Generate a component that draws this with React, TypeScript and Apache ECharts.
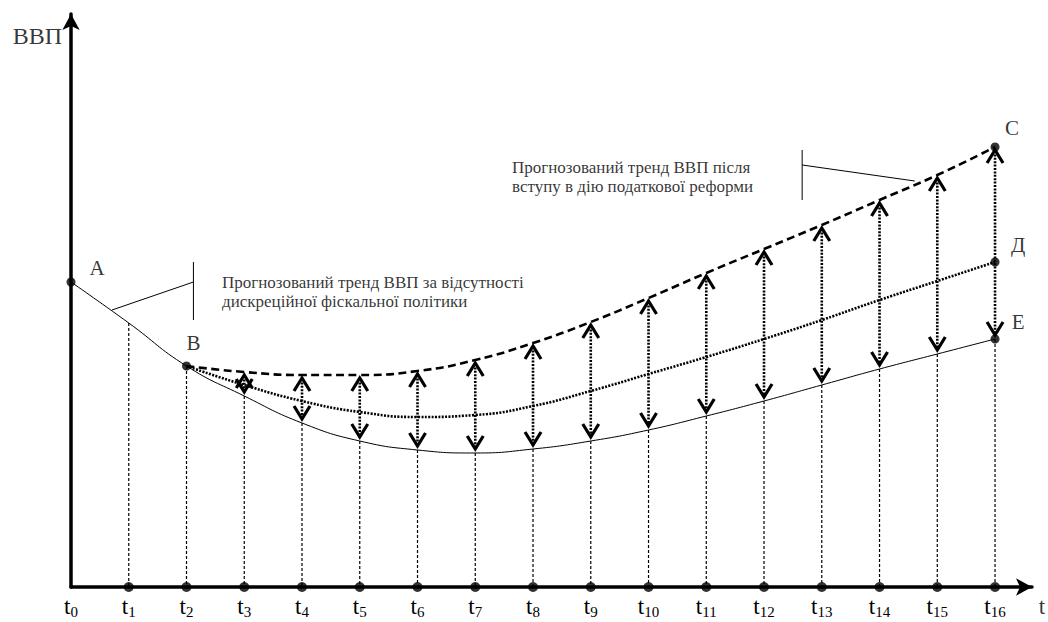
import React, { useEffect, useRef } from 'react';
import * as echarts from 'echarts';

// Time points t0..t16
const T_INDEX = [0, 1, 2, 3, 4, 5, 6, 7, 8, 9, 10, 11, 12, 13, 14, 15, 16];
// Trend of GDP without discretionary fiscal policy (A -> B -> E)
const TREND_BASE = [305, 264, 221, 191, 164, 146, 137, 134, 138, 146, 157, 171, 186, 202, 218, 233, 248];
// Trend after tax reform (B -> C), starts at t2
const TREND_REFORM = [221, 215, 212, 212, 216, 227, 244, 265, 289, 314, 338, 362, 387, 412, 440];
// Intermediate trend (B -> Д), starts at t2
const TREND_MID = [221, 202, 186, 175, 170, 172, 181, 196, 213, 230, 248, 267, 287, 306, 325];
const BRANCH_START = 2;
const ARROW_START = 3;
// Leader lines for annotations (data units)
const LEADER_1 = [[0.71, 277], [2.12, 305]];
const LEADER_1_BAR = [[2.12, 325], [2.12, 267]];
const LEADER_2 = [[12.66, 422], [14.61, 406]];
const LEADER_2_BAR = [[12.66, 437], [12.66, 387]];

const NOTE_1 = ['Прогнозований тренд ВВП за відсутності', 'дискреційної фіскальної політики'];
const NOTE_2 = ['Прогнозований тренд ВВП після', 'вступу в дію податкової реформи'];
const NOTE_1_AT = [2.615, 295];
const NOTE_2_AT = [7.636, 410];
const Y_NAME = 'ВВП';
const Y_NAME_AT = [0, 551];
const X_NAME = 't';
const X_MAX = 16.64;

const FONT = 'Liberation Serif';

export default function App() {
  const ref = useRef<HTMLDivElement>(null);
  useEffect(() => {
    document.body.style.margin = '0';
    const chart = echarts.init(ref.current!, null, { renderer: 'svg' });
    const last = T_INDEX.length - 1;
    const reformData = TREND_REFORM.map((v, i) => [BRANCH_START + i, v]);
    const midData = TREND_MID.map((v, i) => [BRANCH_START + i, v]);
    const baseData = TREND_BASE.map((v, i) => [T_INDEX[i], v]);
    const arrowData = T_INDEX.filter((t) => t >= ARROW_START).map((t) => [t, TREND_REFORM[t - BRANCH_START], TREND_BASE[t]]);
    const dropData = T_INDEX.filter((t) => t >= 1).map((t) => [t, TREND_BASE[t]]);
    const namedPoints = [
      { name: 'A', value: [0, TREND_BASE[0]], off: [26, -14] },
      { name: 'B', value: [BRANCH_START, TREND_BASE[BRANCH_START]], off: [7, -23] },
      { name: 'C', value: [last, TREND_REFORM[TREND_REFORM.length - 1]], off: [17, -19] },
      { name: 'Д', value: [last, TREND_MID[TREND_MID.length - 1]], off: [23, -17] },
      { name: 'E', value: [last, TREND_BASE[last]], off: [23, -17] },
    ];
    const lineStyleThin = { color: '#000', width: 1 };
    const textItems = [
      { value: NOTE_1_AT, label: { show: true, formatter: NOTE_1.join('\n'), position: 'right', distance: 0, fontFamily: FONT, fontSize: 17, lineHeight: 19, color: '#000', align: 'left' } },
      { value: NOTE_2_AT, label: { show: true, formatter: NOTE_2.join('\n'), position: 'right', distance: 0, fontFamily: FONT, fontSize: 17, lineHeight: 19, color: '#000', align: 'left' } },
      { value: Y_NAME_AT, label: { show: true, formatter: Y_NAME, position: 'left', distance: 9, fontFamily: FONT, fontSize: 24, color: '#000' } },
      { value: [X_MAX, 0], label: { show: true, formatter: X_NAME, position: 'inside', offset: [10, 19], fontFamily: FONT, fontSize: 23, color: '#000' } },
    ];
    const option: any = {
      animation: false,
      backgroundColor: '#fff',
      grid: { left: 71, right: 16, top: 14, bottom: 35, containLabel: false },
      xAxis: {
        type: 'value',
        min: 0,
        max: X_MAX,
        interval: 1,
        axisLine: { show: true, onZero: false, lineStyle: { color: '#000', width: 3.5 }, symbol: ['none', 'arrow'], symbolSize: [13, 16] },
        axisTick: { show: false },
        splitLine: { show: false },
        axisLabel: {
          margin: 6,
          showMaxLabel: false,
          formatter: (v: number) => (Number.isInteger(v) ? `{m|t}{s|${v}}` : ''),
          rich: {
            m: { fontFamily: FONT, fontSize: 23, color: '#000', lineHeight: 26 },
            s: { fontFamily: FONT, fontSize: 15, color: '#000', lineHeight: 26, padding: [12, 0, 0, 0] },
          },
        },
      },
      yAxis: {
        type: 'value',
        min: 0,
        max: 573,
        axisLine: { show: true, onZero: false, lineStyle: { color: '#000', width: 3.5 }, symbol: ['none', 'arrow'], symbolSize: [13, 16] },
        axisTick: { show: false },
        splitLine: { show: false },
        axisLabel: { show: false },
      },
      series: [
        {
          type: 'custom',
          name: 'drops',
          data: dropData,
          encode: { x: 0, y: 1 },
          silent: true,
          z: 1,
          renderItem: (_p: any, api: any) => {
            const x = api.value(0);
            const a = api.coord([x, api.value(1)]);
            const b = api.coord([x, 0]);
            return {
              type: 'line',
              shape: { x1: a[0], y1: a[1], x2: b[0], y2: b[1] },
              style: { stroke: '#000', lineWidth: 1.2, lineDash: [3, 2] },
            };
          },
        },
        { type: 'line', name: 'base', data: baseData, smooth: 0.5, symbol: 'none', lineStyle: lineStyleThin, z: 2 },
        { type: 'line', name: 'mid', data: midData, smooth: 0.5, symbol: 'none', lineStyle: { color: '#000', width: 2.6, type: [2, 1.4] }, z: 2 },
        { type: 'line', name: 'reform', data: reformData, smooth: 0.5, symbol: 'none', lineStyle: { color: '#000', width: 2.6, type: [8, 4.5] }, z: 2 },
        {
          type: 'custom',
          name: 'arrows',
          data: arrowData,
          encode: { x: 0, y: [1, 2] },
          silent: true,
          z: 3,
          renderItem: (_p: any, api: any) => {
            const x = api.value(0);
            const top = api.coord([x, api.value(1)]);
            const bot = api.coord([x, api.value(2)]);
            const px = top[0];
            const yT = top[1] + 3;
            const yB = bot[1] - 4;
            const w = 8;
            const h = 13;
            const head = { stroke: '#000', lineWidth: 3.2, fill: 'none' };
            return {
              type: 'group',
              children: [
                { type: 'line', shape: { x1: px, y1: yT + 1, x2: px, y2: yB - 1 }, style: { stroke: '#000', lineWidth: 2.6, lineDash: [2, 1.4] } },
                { type: 'polyline', shape: { points: [[px - w, yT + h], [px, yT], [px + w, yT + h]] }, style: head },
                { type: 'polyline', shape: { points: [[px - w, yB - h], [px, yB], [px + w, yB - h]] }, style: head },
              ],
            };
          },
        },
        { type: 'line', name: 'leader1', data: LEADER_1, symbol: 'none', lineStyle: lineStyleThin, z: 2 },
        { type: 'line', name: 'leader1bar', data: LEADER_1_BAR, symbol: 'none', lineStyle: lineStyleThin, z: 2 },
        { type: 'line', name: 'leader2', data: LEADER_2, symbol: 'none', lineStyle: lineStyleThin, z: 2 },
        { type: 'line', name: 'leader2bar', data: LEADER_2_BAR, symbol: 'none', lineStyle: lineStyleThin, z: 2 },
        {
          type: 'scatter',
          name: 'ticks',
          data: T_INDEX.filter((t) => t >= 1).map((t) => [t, 0]),
          symbolSize: 10,
          itemStyle: { color: '#000' },
          z: 5,
        },
        {
          type: 'scatter',
          name: 'points',
          symbolSize: 9,
          itemStyle: { color: '#000' },
          z: 5,
          data: namedPoints.map((p) => ({
            name: p.name,
            value: p.value,
            label: { show: true, formatter: p.name, position: 'inside', offset: p.off, fontFamily: FONT, fontSize: 21, color: '#000' },
          })),
        },
        {
          type: 'scatter',
          name: 'texts',
          symbolSize: 0,
          clip: false,
          silent: true,
          itemStyle: { color: 'rgba(0,0,0,0)' },
          z: 6,
          data: textItems,
        },
      ],
    };
    chart.setOption(option);
    return () => chart.dispose();
  }, []);
  return <div ref={ref} style={{ width: 1048, height: 622 }} />;
}
